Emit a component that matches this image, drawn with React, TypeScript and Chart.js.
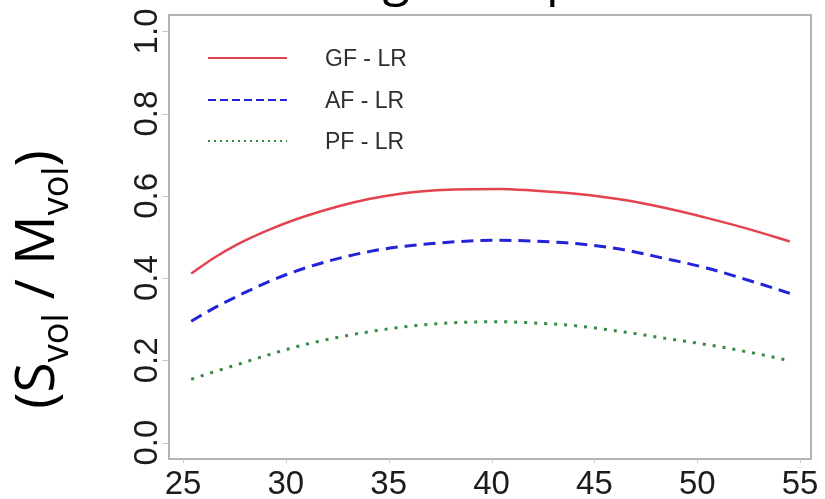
import React, { useEffect, useRef } from "react";
import { Chart, registerables } from "chart.js";

Chart.register(...registerables);

// ---- data ----
const ages = [25.4, 26.5, 27.6, 29.2, 30.9, 34.1, 37.3, 40.4, 42.0, 44.1, 46.3, 48.4, 50.5, 52.6, 54.5];
const gfValues = [0.411, 0.449, 0.481, 0.518, 0.550, 0.593, 0.614, 0.617, 0.613, 0.605, 0.591, 0.571, 0.546, 0.518, 0.489];
const afValues = [0.295, 0.327, 0.355, 0.392, 0.424, 0.465, 0.485, 0.492, 0.490, 0.484, 0.470, 0.448, 0.424, 0.393, 0.363];
const pfValues = [0.154, 0.172, 0.189, 0.214, 0.238, 0.270, 0.289, 0.294, 0.291, 0.284, 0.270, 0.254, 0.238, 0.219, 0.199];
const seriesNames = ["GF - LR", "AF - LR", "PF - LR"];
const xTicks = [25, 30, 35, 40, 45, 50, 55];
const yTicks = [0, 0.2, 0.4, 0.6, 0.8, 1.0];
const yTickLabels = ["0.0", "0.2", "0.4", "0.6", "0.8", "1.0"];
const yLabelParts = [
  { text: "(S", sub: false },
  { text: "vol", sub: true },
  { text: " / M", sub: false },
  { text: "vol", sub: true },
  { text: ")", sub: false },
];
const titleFragments = ["g", "p"];

const framePlugin = {
  id: "framePlugin",
  afterDraw(chart: any) {
    const ctx: CanvasRenderingContext2D = chart.ctx;
    const { left, right, top, bottom } = chart.chartArea;
    const xs = chart.scales.x;
    const ys = chart.scales.y;
    ctx.save();

    // plot frame
    ctx.strokeStyle = "#a2a2a2";
    ctx.lineWidth = 1.6;
    ctx.setLineDash([]);
    ctx.strokeRect(left, top, right - left, bottom - top);

    // tick marks
    ctx.strokeStyle = "#c8c8c8";
    ctx.lineWidth = 1;
    xTicks.forEach((v) => {
      const px = Math.round(xs.getPixelForValue(v)) + 0.5;
      ctx.beginPath();
      ctx.moveTo(px, bottom);
      ctx.lineTo(px, bottom + 4);
      ctx.stroke();
    });
    yTicks.forEach((v) => {
      const py = Math.round(ys.getPixelForValue(v)) + 0.5;
      ctx.beginPath();
      ctx.moveTo(left - 7, py);
      ctx.lineTo(left, py);
      ctx.stroke();
    });

    // tick labels
    ctx.fillStyle = "#1c1c1c";
    ctx.font = '33px "Liberation Sans", Arial, sans-serif';
    ctx.textAlign = "center";
    ctx.textBaseline = "alphabetic";
    xTicks.forEach((v) => {
      ctx.fillText(String(v), xs.getPixelForValue(v), 494);
    });
    yTicks.forEach((v, i) => {
      ctx.save();
      ctx.translate(157, ys.getPixelForValue(v));
      ctx.rotate(-Math.PI / 2);
      ctx.fillText(yTickLabels[i], 0, 0);
      ctx.restore();
    });

    // legend (inside plot, top-left)
    const legendRows = [58, 100, 141];
    chart.data.datasets.forEach((ds: any, i: number) => {
      const y = legendRows[i];
      ctx.strokeStyle = ds.borderColor;
      ctx.lineWidth = 2.2;
      ctx.setLineDash(ds.legendDash || []);
      ctx.beginPath();
      ctx.moveTo(208, y);
      ctx.lineTo(287, y);
      ctx.stroke();
      ctx.setLineDash([]);
      ctx.fillStyle = "#2e2e2e";
      ctx.font = '23px "Liberation Sans", Arial, sans-serif';
      ctx.textAlign = "left";
      ctx.textBaseline = "middle";
      ctx.fillText(ds.label, 325, y + 2);
    });

    // y-axis title with subscripts, rotated
    const targetLen = 255;
    let base = 56;
    const measure = (b: number) => {
      let w = 0;
      yLabelParts.forEach((p) => {
        ctx.font = `${p.sub ? Math.round(b * 0.65) : b}px "Open Sans", "Noto Sans", sans-serif`;
        w += ctx.measureText(p.text).width;
      });
      return w;
    };
    base = Math.round((base * targetLen) / measure(base));
    const total = measure(base);
    ctx.save();
    ctx.translate(54, 279.5 + total / 2);
    ctx.rotate(-Math.PI / 2);
    ctx.fillStyle = "#000";
    ctx.textAlign = "left";
    ctx.textBaseline = "alphabetic";
    let cx = 0;
    yLabelParts.forEach((p) => {
      const size = p.sub ? Math.round(base * 0.65) : base;
      ctx.font = `${size}px "Open Sans", "Noto Sans", sans-serif`;
      ctx.fillText(p.text, cx, p.sub ? base * 0.26 : 0);
      cx += ctx.measureText(p.text).width;
    });
    ctx.restore();

    // cut-off title fragments at the very top
    ctx.fillStyle = "#000";
    ctx.font = '50px "Open Sans", "Noto Sans", sans-serif';
    ctx.textBaseline = "alphabetic";
    ctx.textAlign = "center";
    ctx.fillText(titleFragments[0], 396, -5);
    ctx.textAlign = "left";
    ctx.fillText(titleFragments[1], 546, -5);

    ctx.restore();
  },
};

export default function App() {
  const canvasRef = useRef<HTMLCanvasElement | null>(null);

  useEffect(() => {
    const canvas = canvasRef.current;
    if (!canvas) return;
    const toPoints = (vals: number[]) => ages.map((a, i) => ({ x: a, y: vals[i] }));
    const chart = new Chart(canvas, {
      type: "line",
      data: {
        datasets: [
          {
            label: seriesNames[0],
            data: toPoints(gfValues),
            borderColor: "#e3434f",
            borderWidth: 2.5,
            pointRadius: 0,
            fill: false,
            cubicInterpolationMode: "monotone",
            legendDash: [],
          } as any,
          {
            label: seriesNames[1],
            data: toPoints(afValues),
            borderColor: "#2323d8",
            borderWidth: 3,
            borderDash: [12, 7],
            pointRadius: 0,
            fill: false,
            cubicInterpolationMode: "monotone",
            legendDash: [8, 4],
          } as any,
          {
            label: seriesNames[2],
            data: toPoints(pfValues),
            borderColor: "#378a42",
            borderWidth: 3,
            borderDash: [3, 7],
            pointRadius: 0,
            fill: false,
            cubicInterpolationMode: "monotone",
            legendDash: [2, 4],
          } as any,
        ],
      },
      options: {
        responsive: false,
        animation: false,
        events: [],
        layout: { padding: { left: 169, right: 14, top: 15, bottom: 40 } },
        scales: {
          x: { type: "linear", min: 24.32, max: 55.53, display: false },
          y: { type: "linear", min: -0.04, max: 1.04, display: false },
        },
        plugins: {
          legend: { display: false },
          tooltip: { enabled: false },
          title: { display: false },
        },
      },
      plugins: [framePlugin],
    });
    return () => chart.destroy();
  }, []);

  return (
    <div style={{ position: "fixed", left: 0, top: 0, width: 825, height: 499, background: "#fff" }}>
      <canvas ref={canvasRef} width={825} height={499} style={{ width: 825, height: 499, display: "block" }} />
    </div>
  );
}
